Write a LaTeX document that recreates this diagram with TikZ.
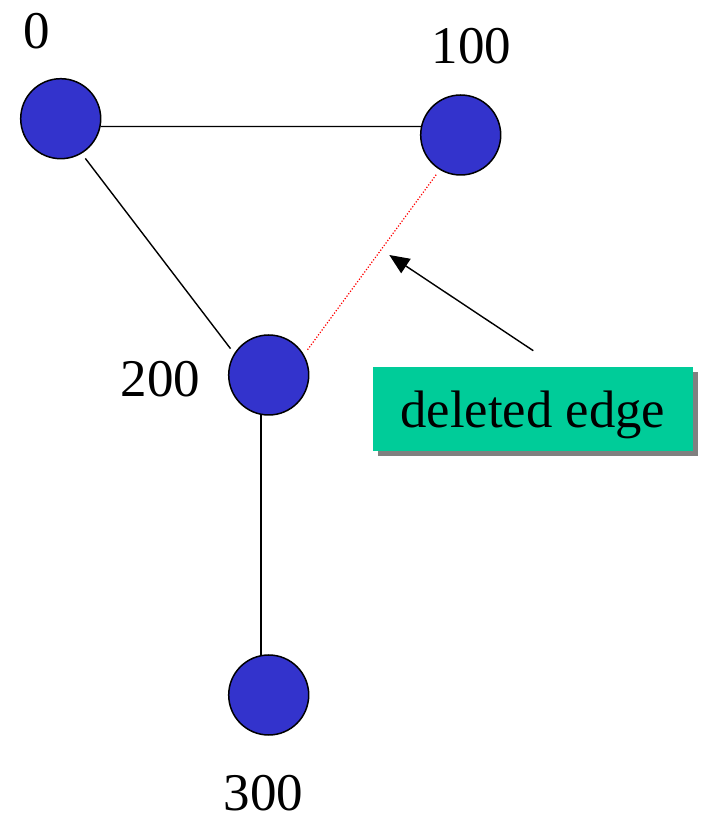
\documentclass[tikz,border=0pt]{standalone}
\usepackage{fontspec}
\setmainfont{Liberation Serif}
\usetikzlibrary{arrows.meta,shadows}
\definecolor{vertexblue}{RGB}{51,51,204}
\definecolor{notegreen}{RGB}{0,204,153}
\definecolor{shadowgray}{RGB}{128,128,128}
\tikzset{
  vertex/.style={circle, draw=black, line width=1.5pt, fill=vertexblue,
                 minimum size=80pt, inner sep=0pt},
  vlabel/.style={anchor=base, inner sep=0pt, font=\fontsize{53}{60}\selectfont},
  edge/.style={draw=black, line width=1.4pt},
  gone/.style={draw=red, line width=1.2pt, dash pattern=on 1.2pt off 1.8pt},
  pointer/.style={draw=black, line width=1.4pt, -{Triangle[length=20pt,width=17pt]}},
  notebox/.style={rectangle, fill=notegreen, minimum width=320pt, minimum height=84pt,
                  inner sep=0pt, text height=40pt, text depth=2.8pt,
                  font=\fontsize{52.7}{60}\selectfont,
                  drop shadow={shadow xshift=5.5pt, shadow yshift=-5.5pt,
                               fill=shadowgray, opacity=1}}
}
\begin{document}
\begin{tikzpicture}[x=1pt,y=1pt]
\useasboundingbox (0,0) rectangle (702,814);

% vertices
\node[vertex] (n0)   at (60.7,695.3) {};
\node[vertex] (n100) at (460.7,679)  {};
\node[vertex] (n200) at (268.7,439)  {};
\node[vertex] (n300) at (268.7,119)  {};

% vertex labels
\node[vlabel] (l0)   at (36.7,765.7)  {0};
\node[vlabel] (l100) at (471.3,750.7) {100};
\node[vlabel] (l200) at (160.5,417.3) {200};
\node[vlabel] (l300) at (263.3,4)     {300};

% edges
\draw[edge] (n0.-11.5) -- (n100.168.5);
\draw[edge, shorten <=6pt, shorten >=6pt] (n0.-59.2) -- (n200.148.6);
\draw[edge] (n200.-101.1) -- (n300.101.1);
\draw[gone, shorten <=6pt, shorten >=6pt] (n100.239.2) -- (n200.30.8);

% annotation
\node[notebox] (note) at (532.7,405.3) {deleted edge};
\coordinate (tail) at (533.3,463.3);
\coordinate (tip)  at (389.3,559);
\draw[pointer] (tail) -- (tip);
\end{tikzpicture}
\end{document}
